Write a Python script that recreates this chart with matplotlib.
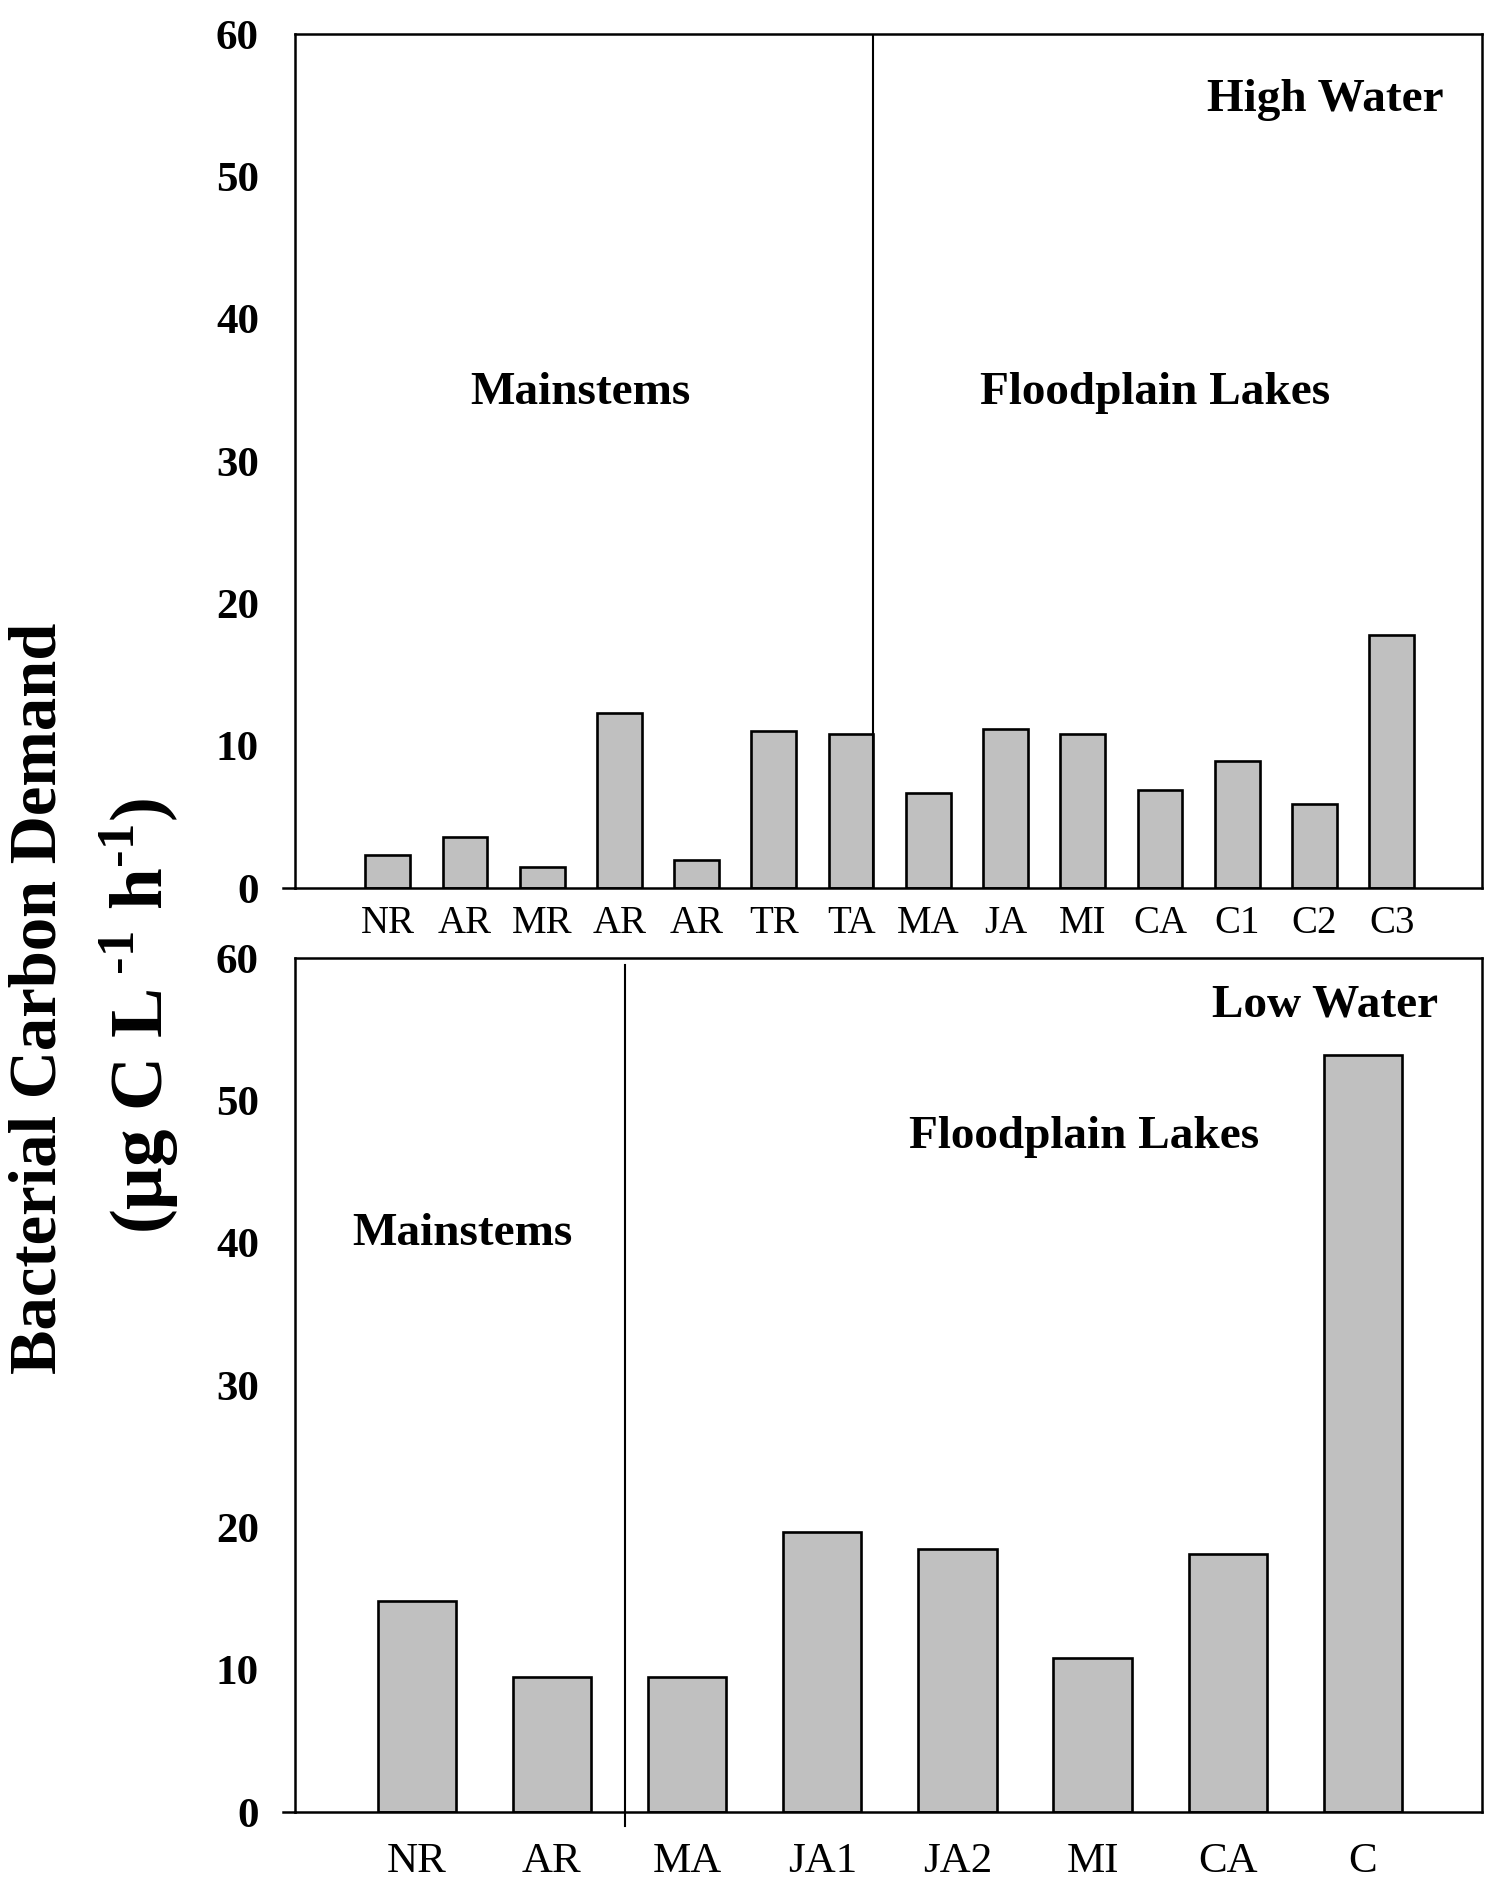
import matplotlib
matplotlib.use("Agg")
import matplotlib.pyplot as plt
import numpy as np

# high water survey
high_sites = ["NR", "AR", "MR", "AR", "AR", "TR", "TA", "MA", "JA", "MI", "CA", "C1", "C2", "C3"]
high_bcd = [2.3, 3.6, 1.5, 12.3, 2.0, 11.0, 10.8, 6.7, 11.2, 10.8, 6.9, 8.9, 5.9, 17.8]

# low water survey
low_sites = ["NR", "AR", "MA", "JA1", "JA2", "MI", "CA", "C"]
low_bcd = [14.8, 9.5, 9.5, 19.7, 18.5, 10.8, 18.1, 53.2]

plt.rcParams["font.family"] = ["Liberation Serif", "DejaVu Serif"]
plt.rcParams["mathtext.fontset"] = "custom"
plt.rcParams["mathtext.rm"] = "Liberation Serif"
plt.rcParams["mathtext.bf"] = "Liberation Serif:bold"

fig = plt.figure(figsize=(15, 19.02), dpi=100)
ax1 = fig.add_axes([0.1967, 0.5331, 0.7913, 0.4490])
ax2 = fig.add_axes([0.1967, 0.0473, 0.7913, 0.4490])

bar_kw = dict(width=0.58, color="#c0c0c0", edgecolor="black", linewidth=1.9, zorder=2)

x1 = np.arange(len(high_sites))
ax1.bar(x1, high_bcd, **bar_kw)
ax1.set_xlim(-1.2, 14.17)
ax1.set_xticks(x1)
ax1.set_xticklabels(high_sites, fontsize=28)
ax1.axvline(6.29, color="black", lw=1.5)
ax1.text(12.14, 55.4, "High Water", fontsize=34, fontweight="bold", ha="center", va="center")
ax1.text(2.5, 34.8, "Mainstems", fontsize=34, fontweight="bold", ha="center", va="center")
ax1.text(9.94, 34.8, "Floodplain Lakes", fontsize=34, fontweight="bold", ha="center", va="center")
ax1.tick_params(axis="x", length=0, pad=12)

x2 = np.arange(len(low_sites))
ax2.bar(x2, low_bcd, **bar_kw)
ax2.set_xlim(-0.9, 7.88)
ax2.set_xticks(x2)
ax2.set_xticklabels(low_sites, fontsize=31)
ax2.plot([1.54, 1.54], [59.5, -1.0], color="black", lw=1.5, clip_on=False)
ax2.text(6.72, 56.7, "Low Water", fontsize=34, fontweight="bold", ha="center", va="center")
ax2.text(4.94, 47.4, "Floodplain Lakes", fontsize=34, fontweight="bold", ha="center", va="center")
ax2.text(0.34, 40.6, "Mainstems", fontsize=34, fontweight="bold", ha="center", va="center")
ax2.tick_params(axis="x", length=0, pad=22)

for ax in (ax1, ax2):
    ax.set_ylim(0, 60)
    ax.set_yticks(range(0, 61, 10))
    ax.tick_params(axis="y", length=0, pad=26, labelsize=31)
    for lab in ax.get_yticklabels():
        lab.set_fontweight("bold")
    for sp in ax.spines.values():
        sp.set_linewidth(1.8)
    # bottom axis line runs a little past the left spine
    ax.plot([-0.01, 0], [0, 0], transform=ax.transAxes, color="black", lw=1.8, clip_on=False)

fig.text(0.026, 0.475, "Bacterial Carbon Demand", rotation=90, fontsize=48,
         fontweight="bold", ha="center", va="center")
fig.text(0.093, 0.466, r"($\mathbf{\mu}$g C L$\,^{\mathbf{\text{-}1}}$ h$^{\mathbf{\text{-}1}}$)",
         rotation=90, fontsize=54, fontweight="bold", ha="center", va="center")

fig.savefig("out.png", dpi=100)
